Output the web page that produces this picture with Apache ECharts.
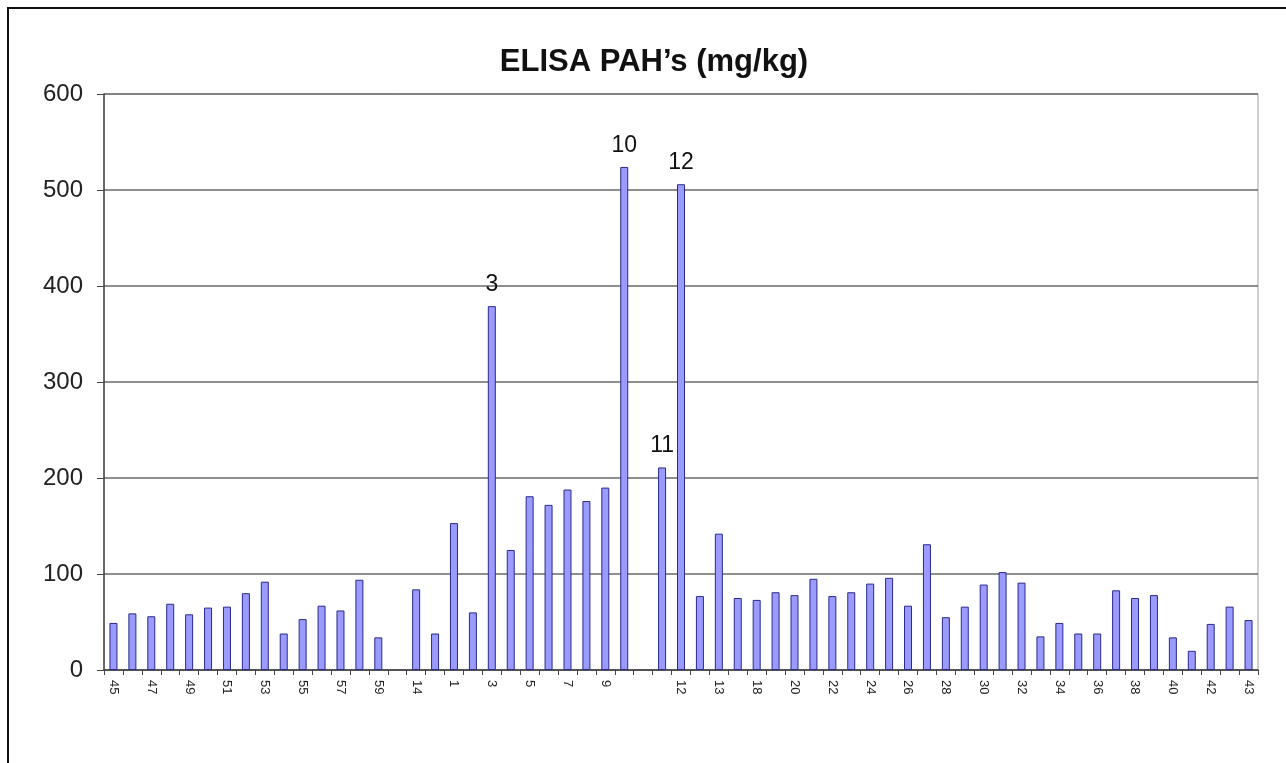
<!DOCTYPE html>
<html>
<head>
<meta charset="utf-8">
<script src="https://cdn.jsdelivr.net/npm/echarts@6/dist/echarts.min.js"></script>
<style>
  html, body { margin: 0; padding: 0; background: #fff; }
  #chart { width: 1286px; height: 763px; }
</style>
</head>
<body>
<div id="chart"></div>
<script>
// sample ids along the x axis ("" / " " are the empty slots)
const sampleIds = [
  "45", "46", "47", "48", "49", "50", "51", "52", "53", "54", "55", "56", "57", "58", "59",
  "", "14", "15", "1", "2", "3", "4", "5", "6", "7", "8", "9", "10", " ", "11", "12",
  "16", "13", "17", "18", "19", "20", "21", "22", "23", "24", "25", "26", "27", "28", "29",
  "30", "31", "32", "33", "34", "35", "36", "37", "38", "39", "40", "41", "42", "44", "43"
];

// ELISA PAH's, mg/kg
const pahValues = [
  49, 59, 56, 69, 58, 65, 66, 80, 92, 38, 53, 67, 62, 94, 34,
  null, 84, 38, 153, 60, 379, 125, 181, 172, 188, 176, 190, 524, null, 211, 506,
  77, 142, 75, 73, 81, 78, 95, 77, 81, 90, 96, 67, 131, 55, 66,
  89, 102, 91, 35, 49, 38, 38, 83, 75, 78, 34, 20, 48, 66, 52
];

// samples called out above their bars
const calledOut = ["3", "10", "11", "12"];

const yTicks = [0, 100, 200, 300, 400, 500, 600];

const font = "'Liberation Sans', Arial, sans-serif";

const barData = pahValues.map((v, i) => {
  if (calledOut.includes(sampleIds[i])) {
    return { value: v, label: { show: true } };
  }
  return v;
});

const chart = echarts.init(document.getElementById("chart"));
chart.setOption({
  animation: false,
  backgroundColor: "#fff",
  textStyle: { fontFamily: font },
  graphic: [
    {
      type: "rect",
      shape: { x: 8, y: 8, width: 1400, height: 900 },
      style: { fill: "none", stroke: "#111", lineWidth: 2 },
      silent: true,
      z: -1
    }
  ],
  title: {
    text: "ELISA PAH\u2019s (mg/kg)",
    left: 649,
    top: 42,
    textAlign: "center",
    textStyle: {
      fontFamily: font,
      fontSize: 31,
      fontWeight: "bold",
      color: "#111"
    }
  },
  grid: {
    left: 104,
    right: 28,
    top: 94,
    bottom: 93,
    show: true,
    borderColor: "#a0a0a0",
    borderWidth: 1
  },
  xAxis: {
    type: "category",
    data: sampleIds,
    axisLine: { lineStyle: { color: "#444", width: 1.5 } },
    axisTick: {
      show: true,
      interval: 0,
      alignWithLabel: false,
      length: 5,
      lineStyle: { color: "#444" }
    },
    axisLabel: {
      interval: 1,
      rotate: -90,
      margin: 10,
      fontSize: 13,
      color: "#222",
      fontFamily: font
    }
  },
  yAxis: {
    type: "value",
    min: yTicks[0],
    max: yTicks[yTicks.length - 1],
    interval: 100,
    axisLine: { show: true, lineStyle: { color: "#444", width: 1.5 } },
    axisTick: { show: true, length: 7, lineStyle: { color: "#444" } },
    axisLabel: {
      margin: 21,
      fontSize: 24,
      color: "#222",
      fontFamily: font
    },
    splitLine: { lineStyle: { color: "#6a6a6a", width: 1.5 } }
  },
  series: [
    {
      name: "ELISA PAH's",
      type: "bar",
      data: barData,
      barWidth: 8,
      itemStyle: {
        color: "#9a9aff",
        borderColor: "#2a2a8a",
        borderWidth: 1
      },
      label: {
        show: false,
        position: "top",
        distance: 10,
        formatter: "{b}",
        fontSize: 23,
        color: "#111",
        fontFamily: font
      }
    }
  ]
});
</script>
</body>
</html>
